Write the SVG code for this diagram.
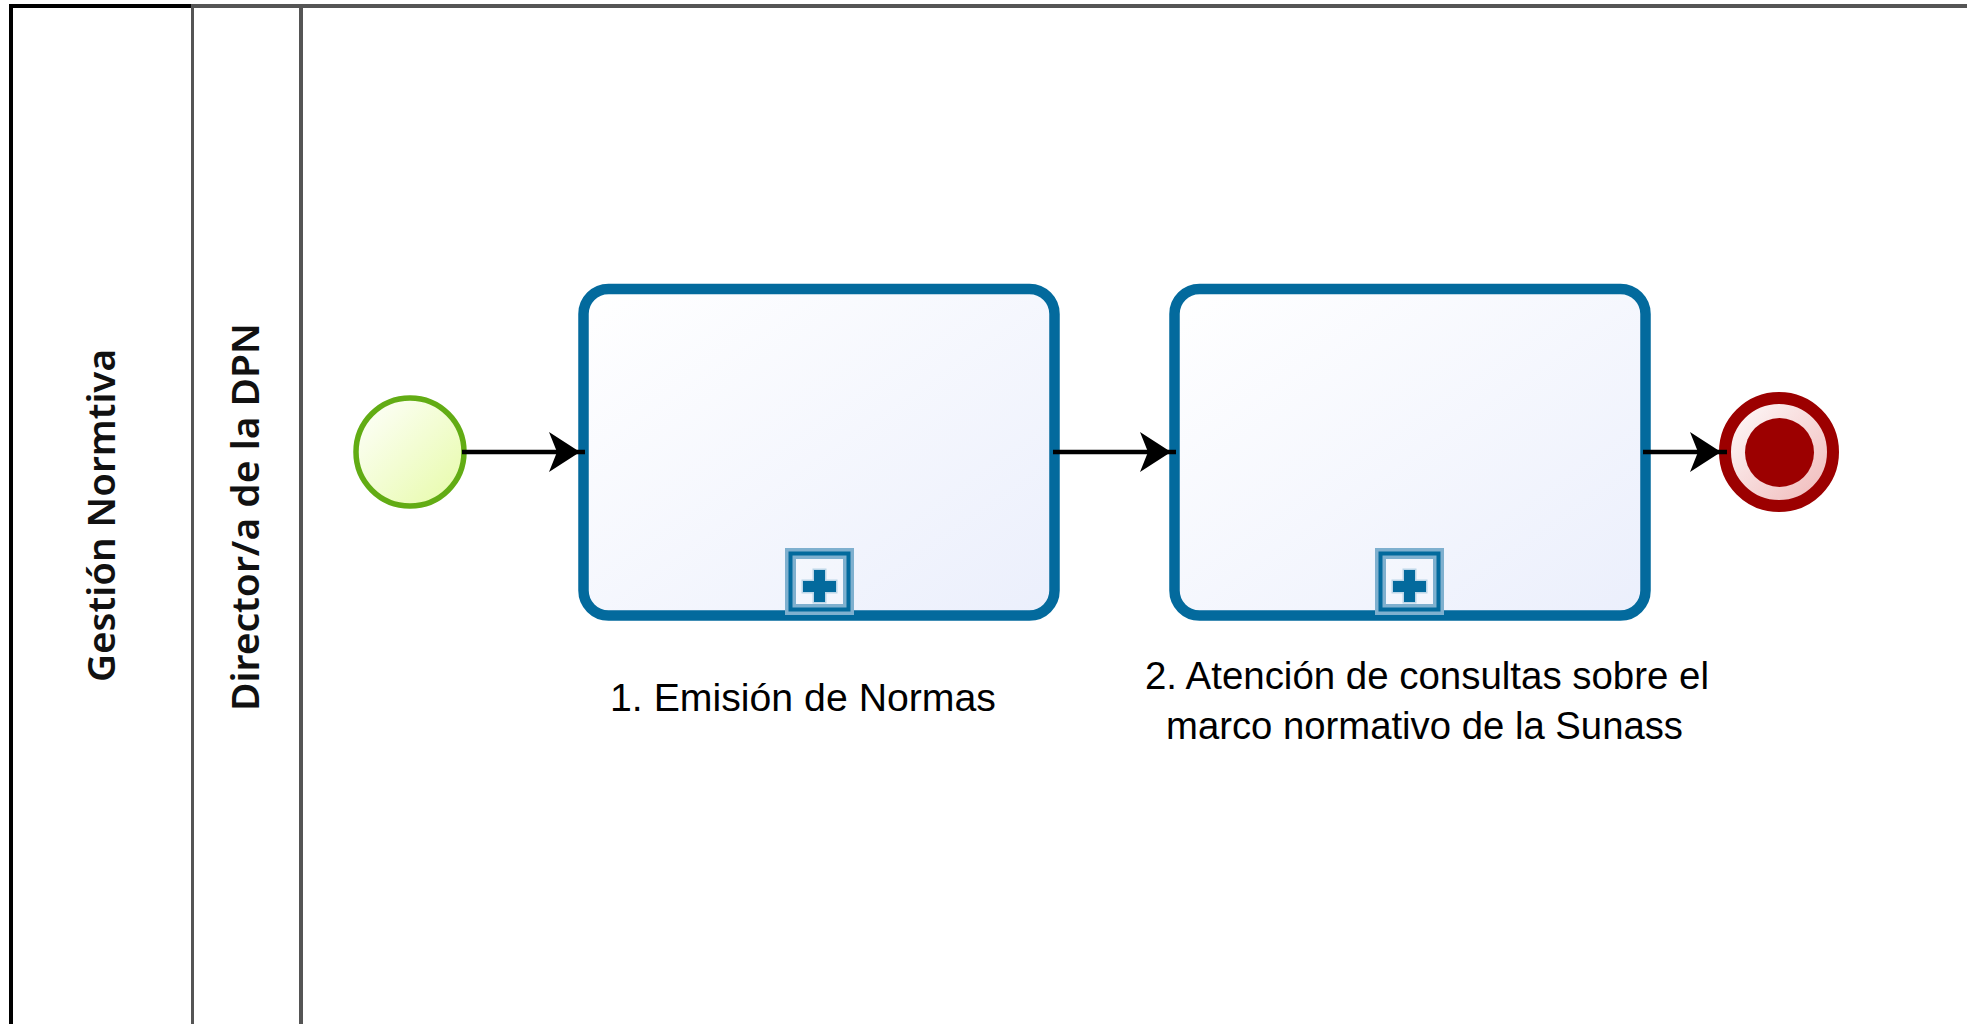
<svg xmlns="http://www.w3.org/2000/svg" width="1967" height="1024" viewBox="0 0 1967 1024">
<style>
.lane{stroke:#555;fill:none}
.task{fill:url(#taskFill);stroke:#036a9d;stroke-width:10.5}
.flow{stroke:#000;stroke-width:4.5;fill:none}
.head{fill:#000}
.markerBox{fill:#fff;fill-opacity:.2;stroke:#7fb0cf;stroke-width:11}
.markerIn{fill:none;stroke:#036a9d;stroke-width:4}
.cross{fill:#036a9d;stroke:#bcd6e8;stroke-width:3;paint-order:stroke}
.lbl{font-family:"Liberation Sans",Arial,sans-serif;font-size:38px;fill:#000}
.head-lbl{font-family:"Noto Sans","Liberation Sans",sans-serif;font-size:38px;font-weight:600;fill:#111}
</style>
<defs>
<linearGradient id="taskFill" x1="0" y1="0" x2="1" y2="1"><stop offset="0" stop-color="#ffffff"/><stop offset="1" stop-color="#ebeffc"/></linearGradient>
<linearGradient id="startFill" x1="0" y1="0" x2="1" y2="1"><stop offset="0" stop-color="#ffffff"/><stop offset="1" stop-color="#e6fba6"/></linearGradient>
<linearGradient id="endFill" x1="0" y1="0" x2="1" y2="1"><stop offset="0" stop-color="#ffffff"/><stop offset="1" stop-color="#efb5b5"/></linearGradient>
<path id="arrow" class="head" d="M-31,-20 L0,0 L-31,20 L-23,0 Z"/>
</defs>
<rect width="1967" height="1024" fill="#fff"/>
<g id="pool">
<path d="M11,1024 V6 H191" fill="none" stroke="#000" stroke-width="4"/>
<path class="lane" stroke-width="4" d="M191,6 H1967"/>
<path class="lane" stroke-width="3" d="M192.500,4 V1024"/>
<path class="lane" stroke-width="4" d="M301,6 V1024"/>
<text class="head-lbl" transform="translate(115,682) rotate(-90)" textLength="333" lengthAdjust="spacingAndGlyphs">Gestión Normtiva</text>
</g>
<g id="lane-dpn">
<text class="head-lbl" transform="translate(259,711) rotate(-90)" textLength="388" lengthAdjust="spacingAndGlyphs">Director/a de la DPN</text>
</g>
<g id="start">
<circle cx="410" cy="452" r="54" fill="url(#startFill)" stroke="#62ac14" stroke-width="5.500"/>
</g>
<g id="task1">
<rect class="task" x="583.500" y="289" width="471" height="326.500" rx="25"/>
<rect class="markerBox" x="790.500" y="553.500" width="58" height="56"/>
<rect class="markerIn" x="790.500" y="553.500" width="58" height="56"/>
<path class="cross" d="M814,570H825V581H836V592H825V602H814V592H803V581H814Z"/>
<text class="lbl" x="610" y="711" textLength="386" lengthAdjust="spacingAndGlyphs">1. Emisión de Normas</text>
</g>
<g id="task2">
<rect class="task" x="1174.500" y="289" width="471" height="326.500" rx="25"/>
<rect class="markerBox" x="1380.500" y="553.500" width="58" height="56"/>
<rect class="markerIn" x="1380.500" y="553.500" width="58" height="56"/>
<path class="cross" d="M1404,570H1415V581H1426V592H1415V602H1404V592H1393V581H1404Z"/>
<text class="lbl" x="1145" y="689" textLength="564" lengthAdjust="spacingAndGlyphs">2. Atención de consultas sobre el</text>
<text class="lbl" x="1166" y="739" textLength="517" lengthAdjust="spacingAndGlyphs">marco normativo de la Sunass</text>
</g>
<g id="end">
<circle cx="1779" cy="452" r="54" fill="url(#endFill)" stroke="#9c0000" stroke-width="12"/>
<circle cx="1779.500" cy="452.500" r="34.500" fill="#9c0000"/>
</g>
<g id="connectors">
<path class="flow" d="M462,452 H585"/>
<use href="#arrow" x="580" y="452"/>
<path class="flow" d="M1053,452 H1176"/>
<use href="#arrow" x="1171" y="452"/>
<path class="flow" d="M1643,452 H1727"/>
<use href="#arrow" x="1721" y="452"/>
</g>
</svg>
